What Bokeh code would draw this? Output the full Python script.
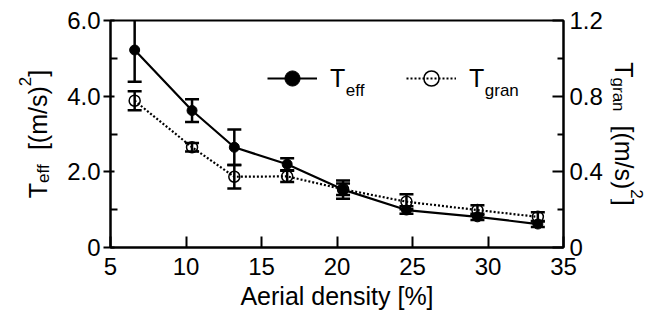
from math import pi
from bokeh.plotting import figure
from bokeh.layouts import row
from bokeh.core.properties import value
from bokeh.models import (Range1d, LinearAxis, FixedTicker, Whisker, TeeHead,
                          ColumnDataSource, Label, Legend, LegendItem, CustomJSTickFormatter)
from bokeh.embed import file_html
from bokeh.resources import INLINE

# ---- data ----
density = [6.6, 10.4, 13.2, 16.7, 20.4, 24.6, 29.3, 33.3]
t_eff = [5.22, 3.62, 2.65, 2.20, 1.53, 0.99, 0.81, 0.62]
t_eff_err = [0.84, 0.30, 0.47, 0.16, 0.24, 0.10, 0.08, 0.08]
t_gran = [0.776, 0.530, 0.374, 0.376, 0.308, 0.242, 0.198, 0.162]
t_gran_err = [0.050, 0.022, 0.062, 0.030, 0.030, 0.040, 0.026, 0.024]
x_ticks = [5, 10, 15, 20, 25, 30, 35]
left_ticks = [0, 2, 4, 6]
left_minor = [1, 3, 5]
right_ticks = [0, 0.4, 0.8, 1.2]
right_minor = [0.2, 0.6, 1.0]
x_label = "Aerial density [%]"
left_label = [("T", "main"), ("eff", "sub"), ("  ", "main"), ("[(m/s)", "main"), ("2", "sup"), ("]", "main")]
right_label = [("T", "main"), ("gran", "sub"), ("  ", "main"), ("[(m/s)", "main"), ("2", "sup"), ("]", "main")]

FONT = "Liberation Sans"
H = 316
TOP, FH = 20, 227
BOTTOM = H - TOP - FH
LW, MW, RW = 60, 550, 46

src_eff = ColumnDataSource(dict(
    x=density, y=t_eff,
    lo=[v - e for v, e in zip(t_eff, t_eff_err)],
    hi=[v + e for v, e in zip(t_eff, t_eff_err)]))
src_gran = ColumnDataSource(dict(
    x=density, y=t_gran,
    lo=[v - e for v, e in zip(t_gran, t_gran_err)],
    hi=[v + e for v, e in zip(t_gran, t_gran_err)]))

p = figure(width=MW, height=H, x_range=Range1d(5, 35), y_range=Range1d(0, 6),
           output_backend="svg", toolbar_location=None,
           min_border_left=50, min_border_right=47, min_border_top=TOP, min_border_bottom=BOTTOM)
p.extra_y_ranges = {"r": Range1d(0, 1.2)}
p.grid.visible = False
p.outline_line_color = "black"
p.outline_line_width = 2

fmt = CustomJSTickFormatter(code="return tick == 0 ? '0' : tick.toFixed(1);")

def style_axis(ax):
    ax.axis_line_width = 2
    ax.axis_line_color = "black"
    ax.major_tick_line_width = 2
    ax.minor_tick_line_width = 2
    ax.major_tick_line_color = "black"
    ax.minor_tick_line_color = "black"
    ax.major_label_text_font = FONT
    ax.major_label_text_font_size = "24px"
    ax.major_label_text_color = "black"

xa = p.xaxis[0]
style_axis(xa)
xa.ticker = FixedTicker(ticks=x_ticks, minor_ticks=[])
xa.major_tick_in = 11
xa.major_tick_out = 0
xa.major_label_standoff = 10
xa.axis_label = x_label
xa.axis_label_text_font = FONT
xa.axis_label_text_font_size = "25px"
xa.axis_label_text_font_style = "normal"
xa.axis_label_text_color = "black"
xa.axis_label_standoff = 4

ya = p.yaxis[0]
style_axis(ya)
ya.ticker = FixedTicker(ticks=left_ticks, minor_ticks=left_minor)
ya.formatter = fmt
ya.major_tick_in = 4
ya.major_tick_out = 7
ya.minor_tick_in = 7
ya.minor_tick_out = 0
ya.major_label_standoff = 3

ra = LinearAxis(y_range_name="r")
style_axis(ra)
ra.ticker = FixedTicker(ticks=right_ticks, minor_ticks=right_minor)
ra.formatter = fmt
ra.major_tick_in = 11
ra.major_tick_out = 0
ra.minor_tick_in = 6
ra.minor_tick_out = 0
ra.major_label_standoff = 6
p.add_layout(ra, "right")

# ---- error bars ----
def whisk(src, rname=None):
    kw = dict(base="x", upper="hi", lower="lo", source=src, line_width=2.5, line_color="black",
              upper_head=TeeHead(size=14, line_width=2.5, line_color="black"),
              lower_head=TeeHead(size=14, line_width=2.5, line_color="black"))
    if rname:
        kw["y_range_name"] = rname
    return Whisker(**kw)

p.add_layout(whisk(src_gran, "r"))
p.add_layout(whisk(src_eff))

# ---- series ----
r_gl = p.line("x", "y", source=src_gran, y_range_name="r", line_color="black", line_width=2.2, line_dash="2 2")
r_gm = p.scatter("x", "y", source=src_gran, y_range_name="r", size=11, fill_color=None,
                 line_color="black", line_width=1.5)
r_el = p.line("x", "y", source=src_eff, line_color="black", line_width=2.2)
r_em = p.scatter("x", "y", source=src_eff, size=10, fill_color="black", line_color="black")

# ---- legend ----
leg = Legend(items=[LegendItem(label="T", renderers=[r_el, r_em]),
                    LegendItem(label="T", renderers=[r_gl, r_gm])],
             orientation="horizontal", location=(157, 150),
             padding=0, margin=0, border_line_alpha=0, background_fill_alpha=0,
             glyph_width=50, glyph_height=38, label_standoff=13, label_width=48, spacing=28,
             label_text_font=FONT, label_text_font_size="25px", label_text_color="black")
p.add_layout(leg)

W = {"T": .611, "e": .556, "f": .278, "g": .556, "r": .333, "a": .556, "n": .556, " ": .278,
     "[": .278, "(": .333, "m": .833, "/": .278, "s": .5, ")": .333, "2": .556, "]": .278}
SIZE = {"main": 25, "sub": 17, "sup": 17}
SHIFT = {"main": 0, "sub": -5, "sup": 13}

def twidth(t, size):
    return sum(W.get(c, .556) for c in t) * size

for txt, xs in (("eff", 220), ("gran", 359)):
    p.add_layout(Label(x=xs + twidth("T", 25), y=157, x_units="screen", y_units="screen",
                       text=txt, text_font=FONT, text_font_size="17px", text_color="black",
                       text_baseline="alphabetic"))

# ---- side figures holding the rotated axis titles ----
# their frame shares the main frame's vertical band; 1 data unit = 1 pixel
def side_fig(w):
    f = figure(width=w, height=H, x_range=Range1d(0, w), y_range=Range1d(0, FH),
               output_backend="svg", toolbar_location=None,
               min_border_left=0, min_border_right=0, min_border_top=TOP, min_border_bottom=BOTTOM,
               x_axis_type=None, y_axis_type=None)
    f.grid.visible = False
    f.outline_line_color = None
    return f

def rich_sources(segs, x0, center, direction):
    total = sum(twidth(t, SIZE[k]) for t, k in segs)
    pos = center - direction * total / 2
    big = dict(x=[], y=[], text=[])
    small = dict(x=[], y=[], text=[])
    for t, k in segs:
        if t.strip():
            d = big if k == "main" else small
            d["x"].append(x0 - direction * SHIFT[k])
            d["y"].append(pos)
            d["text"].append(t)
        pos += direction * twidth(t, SIZE[k])
    return ColumnDataSource(big), ColumnDataSource(small)

def draw_title(f, segs, x0, center, direction, angle):
    big, small = rich_sources(segs, x0, center, direction)
    for src, fs in ((big, "25px"), (small, "17px")):
        f.text("x", "y", text="text", source=src, angle=angle,
               text_font=value(FONT), text_font_size=value(fs), text_color="black",
               text_align="left", text_baseline="alphabetic")

yc = FH / 2

lf = side_fig(LW)
draw_title(lf, left_label, 37.5, yc, 1, pi / 2)

rf = side_fig(RW)
draw_title(rf, right_label, 623 - LW - MW, yc, -1, -pi / 2)

layout = row(lf, p, rf)
open("out.html", "w").write(file_html(layout, INLINE))
